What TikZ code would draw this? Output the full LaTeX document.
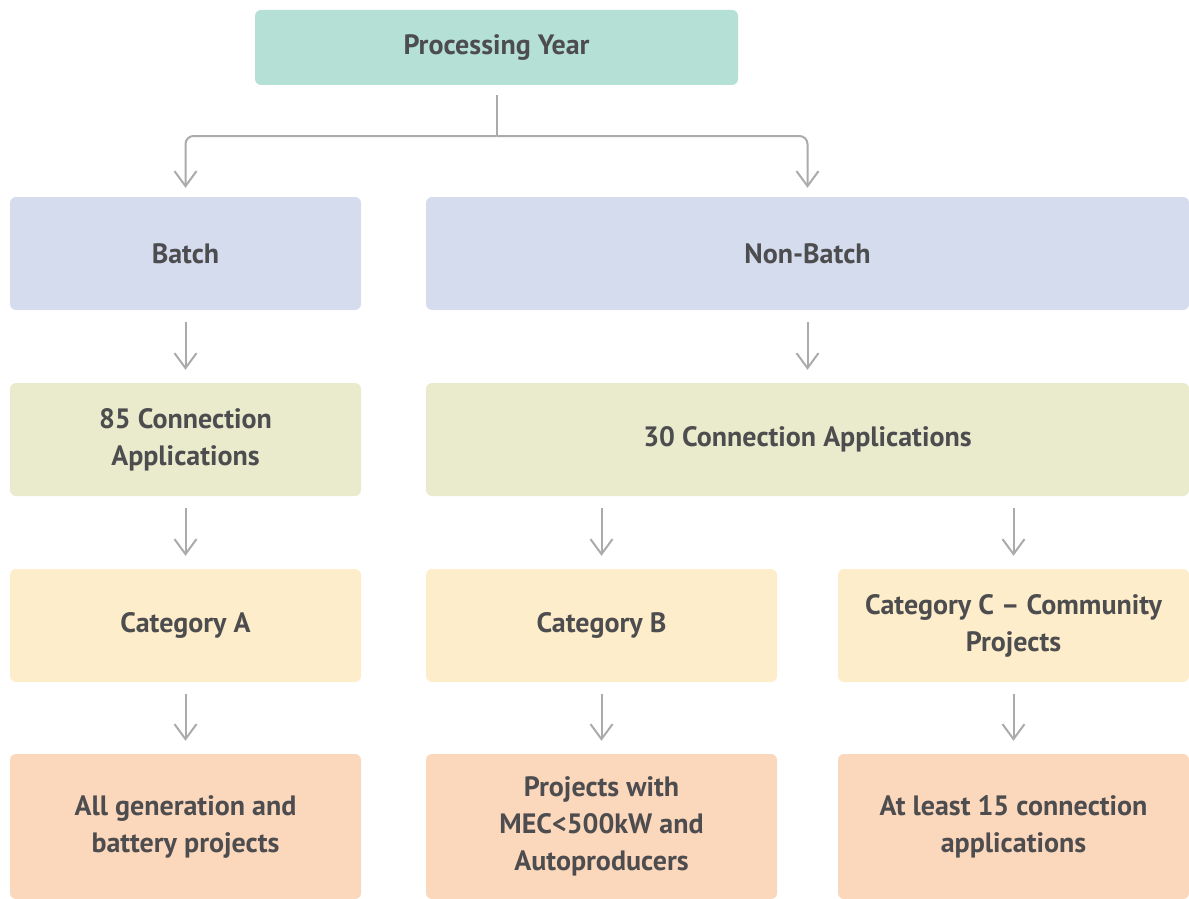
\documentclass[tikz,border=0pt]{standalone}
\usepackage{fontspec}
\setmainfont{PT Sans}
\usepackage{tikz}
\usetikzlibrary{positioning,arrows.meta,calc}

\definecolor{yearcol}{HTML}{B5E0D5}
\definecolor{modecol}{HTML}{D4DCEE}
\definecolor{appcol}{HTML}{EAEBCD}
\definecolor{catcol}{HTML}{FDEDCB}
\definecolor{projcol}{HTML}{FBD7BC}
\definecolor{txtcol}{HTML}{4D4D4F}
\definecolor{linecol}{HTML}{ABABAB}

\begin{document}
\begin{tikzpicture}[x=1pt,y=-1pt,
    box/.style={rounded corners=6pt, inner sep=0pt, align=center,
      text=txtcol, font=\fontsize{28}{37}\selectfont\bfseries},
    narrow/.style={box, minimum width=351pt, minimum height=113pt},
    wide/.style={box, minimum width=763pt, minimum height=113pt},
    conn/.style={draw=linecol, line width=2pt},
    arr/.style={conn, -{Straight Barb[length=15pt,width=22pt,line width=2pt]}}
  ]
  \useasboundingbox (0,0) rectangle (1189,899);

  % top
  \node[box, fill=yearcol, minimum width=483pt, minimum height=75pt] (year) at (496.5,47.5) {Processing Year};

  % batch / non-batch
  \node[narrow, fill=modecol] (batch) at (185.5,253.5) {Batch};
  \node[wide, fill=modecol] (nonbatch) at (807.5,253.5) {Non-Batch};

  % applications
  \node[narrow, fill=appcol] (app85) at (185.5,439.5) {85 Connection\\Applications};
  \node[wide, fill=appcol] (app30) at (807.5,439.5) {30 Connection Applications};

  % categories
  \node[narrow, fill=catcol] (catA) at (185.5,625.5) {Category A};
  \node[narrow, fill=catcol] (catB) at (601.5,625.5) {Category B};
  \node[narrow, fill=catcol] (catC) at (1013.5,625.5) {Category C – Community\\Projects};

  % projects
  \node[narrow, fill=projcol, minimum height=145pt] (projA) at (185.5,826.5) {All generation and\\battery projects};
  \node[narrow, fill=projcol, minimum height=145pt] (projB) at (601.5,826.5) {Projects with\\MEC<500kW and\\Autoproducers};
  \node[narrow, fill=projcol, minimum height=145pt] (projC) at (1013.5,826.5) {At least 15 connection\\applications};

  % connectors
  \coordinate (split) at (496.5,136);
  \draw[conn] ([yshift=-10pt]year.south) -- (split);
  \draw[arr, rounded corners=8pt] (split) -| ([yshift=9pt]batch.north);
  \draw[arr, rounded corners=8pt] (split) -| ([yshift=9pt]nonbatch.north);

  \draw[arr, shorten <=12pt, shorten >=13pt] (batch) -- (app85);
  \draw[arr, shorten <=12pt, shorten >=13pt] (nonbatch.south) -- (app30.north);
  \draw[arr, shorten <=12pt, shorten >=13pt] (app85) -- (catA);
  \draw[arr, shorten <=12pt, shorten >=13pt] (catB.north |- app30.south) -- (catB.north);
  \draw[arr, shorten <=12pt, shorten >=13pt] (catC.north |- app30.south) -- (catC.north);
  \draw[arr, shorten <=12pt, shorten >=13pt] (catA) -- (projA);
  \draw[arr, shorten <=12pt, shorten >=13pt] (catB) -- (projB);
  \draw[arr, shorten <=12pt, shorten >=13pt] (catC) -- (projC);
\end{tikzpicture}
\end{document}
